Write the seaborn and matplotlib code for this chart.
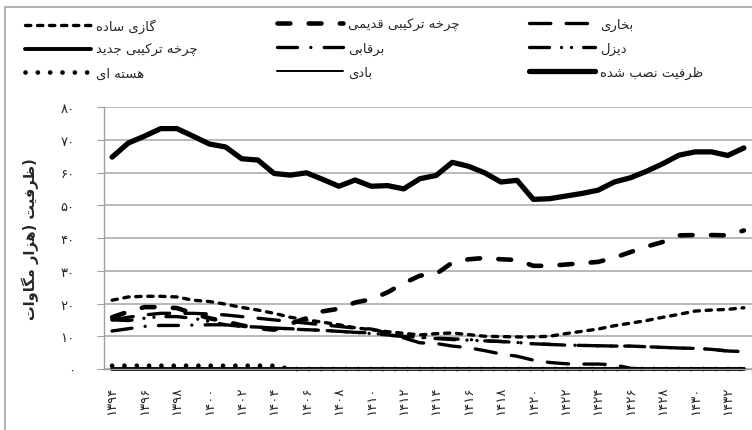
import matplotlib
matplotlib.use("Agg")
import matplotlib.pyplot as plt
from matplotlib.patches import Rectangle
import seaborn as sns

# --- data ---
years = list(range(1394, 1434))
series_names = ["گازی ساده", "چرخه ترکیبی جدید", "هسته ای",
                "چرخه ترکیبی قدیمی", "برقابی", "بادی",
                "بخاری", "دیزل", "ظرفیت نصب شده"]

gas = [21.0, 22.0, 22.2, 22.2, 22.0, 21.0, 20.6, 19.8, 18.8, 18.0,
       17.0, 15.8, 15.0, 14.3, 13.5, 12.6, 12.0, 11.4, 10.9, 10.4,
       10.8, 11.0, 10.5, 10.0, 9.9, 9.8, 9.8, 10.0, 10.8, 11.5,
       12.2, 13.2, 14.0, 14.8, 15.8, 16.7, 17.7, 18.0, 18.2, 18.7]
cc_new = [0.0] * 40
nuclear = [1.0] * 11 + [0.0] * 29
cc_old = [15.8, 17.5, 18.9, 18.9, 18.6, 17.0, 15.5, 14.5, 13.3, 12.5,
          12.0, 13.8, 15.5, 17.6, 18.4, 20.3, 21.3, 23.4, 26.2, 28.5,
          29.0, 32.5, 33.5, 33.9, 33.5, 33.3, 31.5, 31.5, 31.9, 32.3,
          32.7, 34.0, 35.7, 37.4, 38.8, 40.8, 40.9, 40.9, 40.8, 42.3]
hydro = [11.6, 12.3, 13.0, 13.3, 13.3, 13.4, 13.5, 13.5, 13.0, 12.8,
         12.5, 12.2, 12.0, 11.8, 11.5, 11.2, 11.0, 10.3, 10.0, 9.7,
         9.4, 9.2, 9.0, 8.6, 8.4, 8.1, 7.7, 7.5, 7.3, 7.2,
         7.1, 7.0, 7.0, 6.8, 6.6, 6.4, 6.3, 6.0, 5.5, 5.3]
wind = [0.0] * 40
steam = [15.0, 15.8, 16.5, 17.0, 17.0, 17.0, 16.8, 16.5, 16.0, 15.5,
         15.0, 14.5, 14.0, 13.5, 13.0, 12.5, 12.2, 11.0, 9.5, 8.0,
         7.8, 7.0, 6.5, 5.6, 4.6, 3.9, 2.7, 2.0, 1.6, 1.5,
         1.5, 1.3, 0.2, 0.0, 0.0, 0.0, 0.0, 0.0, 0.0, 0.0]
diesel = [15.0, 14.8, 15.5, 16.0, 16.0, 15.5, 14.5, 13.5, 13.0, 12.8,
          12.5, 12.3, 12.0, 11.8, 11.5, 11.2, 10.8, 10.4, 10.0, 9.6,
          9.3, 9.0, 8.8, 8.6, 8.4, 8.1, 7.7, 7.5, 7.3, 7.2,
          7.1, 7.0, 7.0, 6.8, 6.6, 6.4, 6.3, 6.0, 5.5, 5.3]
total = [64.7, 69.0, 71.1, 73.4, 73.4, 71.1, 68.7, 67.8, 64.2, 63.8,
         59.7, 59.2, 59.9, 57.9, 55.8, 57.7, 55.8, 56.0, 55.0, 58.1,
         59.1, 63.1, 61.9, 59.9, 57.1, 57.6, 51.8, 52.0, 52.8, 53.6,
         54.6, 57.1, 58.4, 60.4, 62.7, 65.3, 66.3, 66.3, 65.2, 67.5]
values = [gas, cc_new, nuclear, cc_old, hydro, wind, steam, diesel, total]
y_label = "ظرفیت (هزار مگاوات)"

# line look: (linewidth pt, linestyle)
styles = [
    (2.4, (0, (1.6, 2.0))),
    (2.8, "-"),
    (3.4, (0, (0.01, 2.6))),
    (3.3, (0, (2.8, 4.0))),
    (2.4, (0, (6.0, 4.0, 0.01, 4.0))),
    (1.4, "-"),
    (2.4, (0, (6.4, 4.6))),
    (2.4, (0, (6.0, 3.6, 0.01, 3.0, 0.01, 3.6))),
    (3.8, "-"),
]

# --- minimal Persian shaping (matplotlib has no bidi / joining) ---
FORMS = {
    "ا": "\ufe8d\ufe8e", "د": "\ufea9\ufeaa", "ر": "\ufead\ufeae",
    "ز": "\ufeaf\ufeb0", "و": "\ufeed\ufeee",
    "ب": "\ufe8f\ufe90\ufe91\ufe92", "ت": "\ufe95\ufe96\ufe97\ufe98",
    "ج": "\ufe9d\ufe9e\ufe9f\ufea0", "خ": "\ufea5\ufea6\ufea7\ufea8",
    "س": "\ufeb1\ufeb2\ufeb3\ufeb4", "ش": "\ufeb5\ufeb6\ufeb7\ufeb8",
    "ص": "\ufeb9\ufeba\ufebb\ufebc", "ظ": "\ufec5\ufec6\ufec7\ufec8",
    "ف": "\ufed1\ufed2\ufed3\ufed4", "ق": "\ufed5\ufed6\ufed7\ufed8",
    "ل": "\ufedd\ufede\ufedf\ufee0", "م": "\ufee1\ufee2\ufee3\ufee4",
    "ن": "\ufee5\ufee6\ufee7\ufee8", "ه": "\ufee9\ufeea\ufeeb\ufeec",
    "ی": "\ufbfc\ufbfd\ufbfe\ufbff", "ک": "\ufb8e\ufb8f\ufb90\ufb91",
    "گ": "\ufb92\ufb93\ufb94\ufb95", "چ": "\ufb7a\ufb7b\ufb7c\ufb7d",
}


def fa(text):
    tail = ""
    if text.endswith(")"):  # Excel keeps the trailing bracket at the right
        tail, text = ")", text[:-1]
    out = []
    for k, c in enumerate(text):
        f = FORMS.get(c)
        if f is None:
            out.append(c)
            continue
        prev = text[k - 1] if k > 0 else ""
        nxt = text[k + 1] if k + 1 < len(text) else ""
        jp = prev in FORMS and len(FORMS[prev]) == 4
        jn = len(f) == 4 and nxt in FORMS
        if len(f) == 2:
            out.append(f[1] if jp else f[0])
        else:
            out.append(f[3] if (jp and jn) else f[1] if jp else f[2] if jn else f[0])
    vis = "".join(out)[::-1]
    vis = vis.translate(str.maketrans("()", ")("))
    return vis + tail


def fa_num(n):
    return str(n).translate(str.maketrans("0123456789", "۰۱۲۳۴۵۶۷۸۹"))


sns.set_style("white")
plt.rcParams["font.family"] = ["DejaVu Sans"]

W, H = 752, 431
fig = plt.figure(figsize=(W / 100, H / 100), dpi=100)
ax = fig.add_axes([104 / W, 61 / H, 648 / W, 262 / H])

x = list(range(len(years)))
handles = []
for name, vals, (lw, ls) in zip(series_names, values, styles):
    sns.lineplot(x=x, y=vals, ax=ax, color="black", linewidth=lw,
                 linestyle=ls, legend=False)
    ln = ax.lines[-1]
    ln.set_dash_capstyle("round")
    ln.set_solid_capstyle("round")
    ln.set_solid_joinstyle("round")
    ln.set_clip_on(False)
    handles.append(ln)
handles[-1].set_zorder(5)

ax.set_xlim(-0.5, len(years) - 0.5)
ax.set_ylim(0, 80)
ax.set_yticks(range(0, 81, 10))
ax.set_yticklabels([fa_num(v) for v in range(0, 81, 10)], fontsize=9.5)
ax.set_xticks(x[::2])
ax.set_xticklabels([fa_num(y) for y in years[::2]], rotation=90, fontsize=9.5)
ax.set_xticks([i - 0.5 for i in range(len(years) + 1)], minor=True)
ax.tick_params(axis="x", which="major", length=0, pad=12)
ax.tick_params(axis="x", which="minor", length=4, color="#a0a0a0", width=0.8,
               direction="out")
ax.tick_params(axis="y", length=5, color="#a0a0a0", width=0.8, direction="out",
               pad=16, left=True)
ax.grid(axis="y", color="#a6a6a6", linewidth=1.1)
ax.grid(axis="x", visible=False)
for side in ["top", "right"]:
    ax.spines[side].set_visible(False)
for side in ["left", "bottom"]:
    ax.spines[side].set_color("#a0a0a0")
    ax.spines[side].set_linewidth(1.0)
ax.set_xlabel("")
ax.set_ylabel(fa(y_label), fontsize=10.5, fontweight="bold")
ax.yaxis.set_label_coords(-0.1, 0.5)

# three legend columns placed like the original block
col_x = [25, 277, 529]
for c in range(3):
    hs = handles[c * 3:(c + 1) * 3]
    labs = [fa(n) for n in series_names[c * 3:(c + 1) * 3]]
    fig.legend(hs, labs, loc="upper left", bbox_to_anchor=(col_x[c] / W, 1 - 19 / H),
               frameon=False, fontsize=9.5, handlelength=5.0, handletextpad=0.4,
               labelspacing=0.8, borderpad=0, borderaxespad=0)

fig.patches.append(Rectangle((5 / W, -0.1), 1.2, 1.1 - 8 / H, transform=fig.transFigure,
                             fill=False, edgecolor="#a6a6a6", linewidth=1.2))

fig.savefig("out.png", dpi=100)
